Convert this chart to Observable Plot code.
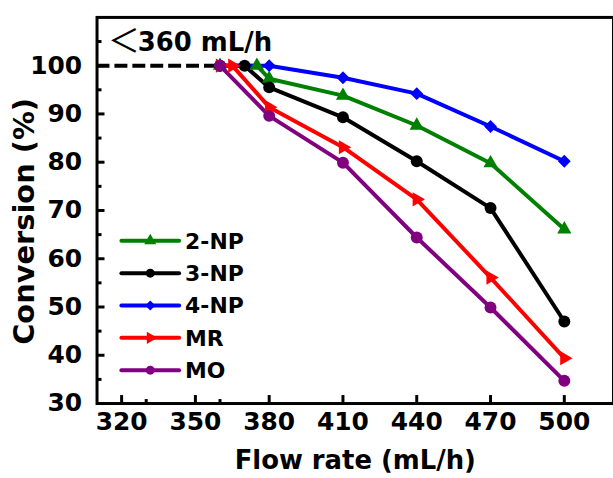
<!DOCTYPE html>
<html><head><meta charset="utf-8">
<script src="https://cdn.jsdelivr.net/npm/d3@7"></script>
<script src="https://cdn.jsdelivr.net/npm/@observablehq/plot@0.6"></script>
<style>
body{margin:0;background:#fff;}
#chart{width:613px;height:478px;overflow:hidden;position:relative;}
</style>
</head><body><div id="chart"></div>
<script>
// ---- data ----
const seriesNames = ["2-NP", "3-NP", "4-NP", "MR", "MO"];
const seriesColors = ["#008000", "#000000", "#0000ff", "#ff0000", "#800080"];

const flow2NP = [360, 375, 380, 410, 440, 470, 500];
const conv2NP = [100, 100, 97.3, 93.8, 87.6, 79.8, 66.1];
const flow3NP = [360, 370, 380, 410, 440, 470, 500];
const conv3NP = [100, 100, 95.5, 89.3, 80.2, 70.5, 47.0];
const flow4NP = [360, 380, 410, 440, 470, 500];
const conv4NP = [100, 100, 97.5, 94.2, 87.4, 80.2];
const flowMR = [360, 365, 380, 410, 440, 470, 500];
const convMR = [100, 100, 91.4, 83.1, 72.3, 56.1, 39.4];
const flowMO = [360, 380, 410, 440, 470, 500];
const convMO = [100, 89.6, 79.9, 64.4, 49.9, 34.7];

const xTicks = [320, 350, 380, 410, 440, 470, 500];
const xMinorTicks = [330, 360];
const yTicks = [30, 40, 50, 60, 70, 80, 90, 100];
const yMinorTicks = [35, 45, 55, 65, 75, 85, 95, 105];
const xDomain = [310, 520];
const yDomain = [30, 110];
const thresholdFlow = 359;
const thresholdConv = 100;
const annotationSymbol = "＜";
const annotationText = "360 mL/h";
const xLabel = "Flow rate (mL/h)";
const yLabel = "Conversion (%)";

// ---- build table ----
const flows = [flow2NP, flow3NP, flow4NP, flowMR, flowMO];
const convs = [conv2NP, conv3NP, conv4NP, convMR, convMO];
const rows = seriesNames.flatMap((s, i) => flows[i].map((f, j) => ({series: s, flow: f, conv: convs[i][j]})));

// ---- symbols ----
const triRight = {draw(ctx, size) {
  const y = Math.sqrt(size / (Math.sqrt(3) * 3));
  ctx.moveTo(2 * y, 0);
  ctx.lineTo(-y, -Math.sqrt(3) * y);
  ctx.lineTo(-y, Math.sqrt(3) * y);
  ctx.closePath();
}};
const seriesSymbols = [d3.symbolTriangle, d3.symbolCircle, d3.symbolDiamond2, triRight, d3.symbolCircle];
const seriesR = [5.3, 6, 5.8, 5.3, 6];

const W = 616, H = 478, mL = 97, mT = 17, mB = 73, mR = 0;
const plotW = W - mL - mR, plotH = H - mT - mB;
const FONT = "'DejaVu Sans', 'Liberation Sans', Arial, sans-serif";

const marks = [
  Plot.ruleY([thresholdConv], {x1: xDomain[0], x2: thresholdFlow, stroke: "black", strokeWidth: 4, strokeDasharray: "13,5"}),
  Plot.line(rows, {x: "flow", y: "conv", z: "series", stroke: "series", strokeWidth: 4}),
  ...seriesNames.map((s, i) => Plot.dot(rows.filter(d => d.series === s), {
    x: "flow", y: "conv", symbol: seriesSymbols[i], fill: seriesColors[i], r: seriesR[i]
  })),
  Plot.frame({stroke: "black", strokeWidth: 3}),
  Plot.ruleX(xTicks, {x: d => d, insetTop: plotH - 8, stroke: "black", strokeWidth: 3}),
  Plot.ruleX(xMinorTicks, {x: d => d, insetTop: plotH - 4, stroke: "black", strokeWidth: 3}),
  Plot.ruleY(yTicks, {y: d => d, insetRight: plotW - 8, stroke: "black", strokeWidth: 3}),
  Plot.ruleY(yMinorTicks, {y: d => d, insetRight: plotW - 5, stroke: "black", strokeWidth: 3}),
  Plot.axisX({ticks: xTicks, tickSize: 0, tickPadding: 9, label: null, fontSize: 25, fontWeight: "bold", fill: "black"}),
  Plot.axisY({ticks: yTicks, tickSize: 0, tickPadding: 15, label: null, fontSize: 25, fontWeight: "bold", fill: "black"}),
  Plot.text([xLabel], {text: d => d, frameAnchor: "bottom", lineAnchor: "middle", textAnchor: "middle", dy: 57, fontSize: 26, fontWeight: "bold", fill: "black"}),
  Plot.text([yLabel], {text: d => d, frameAnchor: "left", lineAnchor: "middle", textAnchor: "middle", dx: -73, dy: 11, rotate: -90, fontSize: 29, fontWeight: "bold", fill: "black"}),
  Plot.text([annotationSymbol], {text: d => d, frameAnchor: "top-left", lineAnchor: "middle", textAnchor: "start", dx: 11, dy: 24, fontSize: 32, fontWeight: "normal", fontFamily: "'Noto Sans CJK SC', sans-serif", fill: "black"}),
  Plot.text([annotationText], {text: d => d, frameAnchor: "top-left", lineAnchor: "middle", textAnchor: "start", dx: 41, dy: 25, fontSize: 26, fontWeight: "bold", fill: "black"})
];

const svg = Plot.plot({
  width: W, height: H,
  marginLeft: mL, marginRight: mR, marginTop: mT, marginBottom: mB,
  x: {domain: xDomain},
  y: {domain: yDomain},
  color: {domain: seriesNames, range: seriesColors},
  style: {fontFamily: FONT, fontWeight: "bold", background: "white", color: "black"},
  marks
});

// ---- in-plot legend ----
const g = d3.select(svg).append("g").attr("font-family", FONT).attr("font-weight", "bold").attr("text-anchor", "start");
seriesNames.forEach((s, i) => {
  const y = 242 + i * 32.5;
  g.append("line").attr("x1", 122).attr("x2", 180).attr("y1", y).attr("y2", y)
    .attr("stroke", seriesColors[i]).attr("stroke-width", 4).attr("stroke-linecap", "round");
  g.append("path").attr("d", d3.symbol(seriesSymbols[i], Math.PI * 4.5 * 4.5)())
    .attr("transform", `translate(151,${y})`).attr("fill", seriesColors[i]);
  g.append("text").attr("x", 186).attr("y", y).attr("dy", "0.36em").attr("text-anchor", "start")
    .attr("font-size", 22).attr("fill", "black").text(s);
});

document.getElementById("chart").appendChild(svg);
</script>
</body></html>
